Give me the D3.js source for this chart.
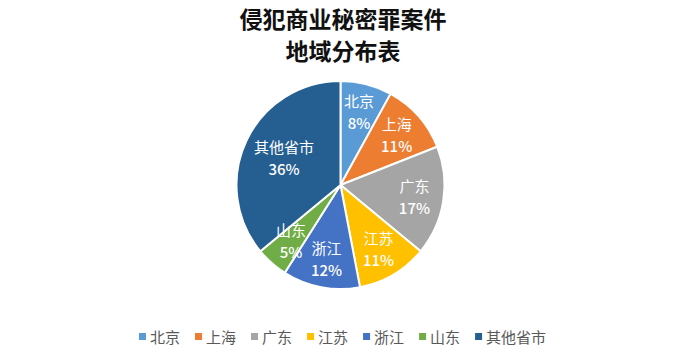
<!DOCTYPE html>
<html><head><meta charset="utf-8">
<script src="https://cdn.jsdelivr.net/npm/d3@7"></script>
<style>body{margin:0;background:#fff}svg{display:block}</style>
</head><body>
<svg id="c" width="696" height="358"></svg>
<script>
const titleLines = ["侵犯商业秘密罪案件", "地域分布表"];
const categories = ["北京", "上海", "广东", "江苏", "浙江", "山东", "其他省市"];
const values = [8, 11, 17, 11, 12, 5, 36];
const colors = ["#5B9BD5", "#ED7D31", "#A5A5A5", "#FFC000", "#4472C4", "#70AD47", "#255E91"];

const svg = d3.select("#c");
const W = 696, H = 358;
const font = "'Noto Sans CJK SC', 'Noto Sans', sans-serif";

svg.append("rect").attr("width", W).attr("height", H).attr("fill", "#fff");

svg.selectAll("text.title").data(titleLines).join("text")
  .attr("class", "title")
  .attr("x", 343).attr("y", (d, i) => 28 + i * 32)
  .attr("text-anchor", "middle")
  .attr("font-family", font).attr("font-size", 23).attr("font-weight", 700)
  .attr("fill", "#111").text(d => d);

const cx = 340.5, cy = 185, R = 104;
const data = categories.map((c, i) => ({ name: c, value: values[i], color: colors[i] }));
const total = d3.sum(values);
const pie = d3.pie().value(d => d.value).sort(null);
const arcs = pie(data);
const arc = d3.arc().innerRadius(0).outerRadius(R);

const g = svg.append("g").attr("transform", `translate(${cx},${cy})`);
g.selectAll("path").data(arcs).join("path")
  .attr("d", arc).attr("fill", d => d.data.color)
  .attr("stroke", "#fff").attr("stroke-width", 2).attr("stroke-linejoin", "round");

const labelArc = d => {
  const frac = d.data.value / total;
  const r = frac > 0.3 ? 0.6 * R : 0.72 * R;
  return d3.arc().innerRadius(r).outerRadius(r);
};
const lab = g.selectAll("g.lab").data(arcs).join("g").attr("class", "lab")
  .attr("transform", d => {
    const [x, y] = labelArc(d).centroid(d);
    return `translate(${x},${y})`;
  });
lab.append("text").attr("y", -5)
  .attr("text-anchor", "middle").attr("font-family", font).attr("font-size", 15)
  .attr("fill", "#fff").text(d => d.data.name);
lab.append("text").attr("y", 17)
  .attr("text-anchor", "middle").attr("font-family", font).attr("font-size", 15)
  .attr("font-weight", 500)
  .attr("fill", "#fff").text(d => Math.round(d.data.value / total * 100) + "%");

// legend
const lg = svg.append("g");
let x = 139;
const ly = 337;
data.forEach(d => {
  lg.append("rect").attr("x", x).attr("y", ly - 4).attr("width", 7).attr("height", 7).attr("fill", d.color);
  const t = lg.append("text").attr("x", x + 11).attr("y", ly + 5.5)
    .attr("font-family", font).attr("font-size", 15).attr("fill", "#595959").text(d.name);
  const w = t.node().getComputedTextLength();
  x += 11 + w + 15;
});
</script>
</body></html>
